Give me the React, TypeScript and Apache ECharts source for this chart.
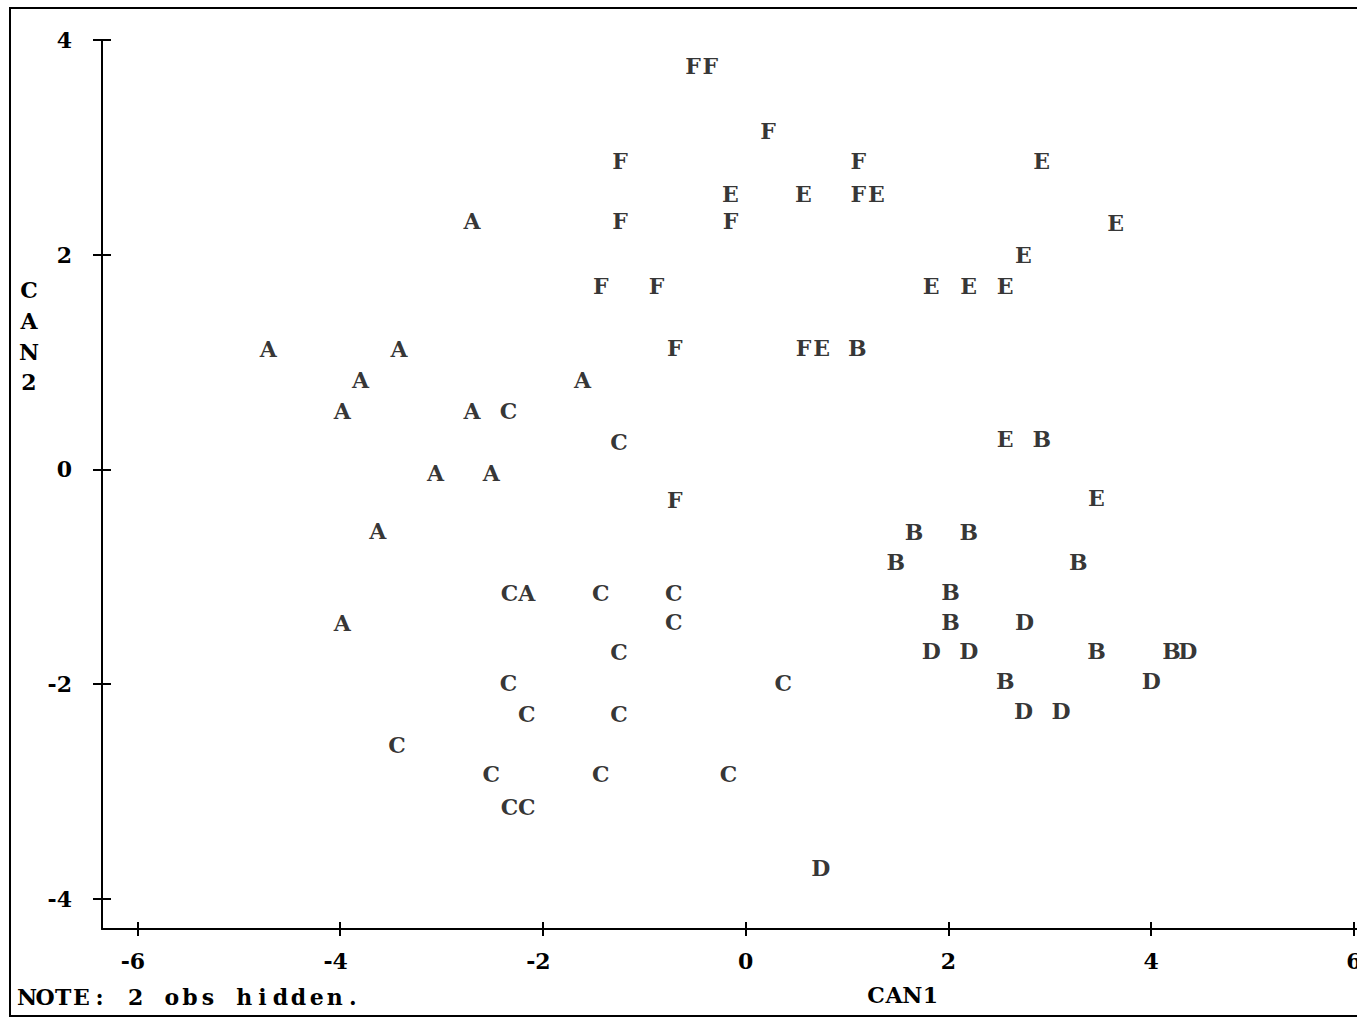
import React, { useEffect, useRef } from "react";
import * as echarts from "echarts";

// CAN1 / CAN2 canonical scores, one list per group letter
const groupA = [
  [-2.70, 2.31], [-4.71, 1.12], [-3.42, 1.12], [-3.80, 0.83], [-1.61, 0.83],
  [-3.98, 0.54], [-2.70, 0.54], [-3.06, -0.03], [-2.51, -0.03], [-3.63, -0.57],
  [-2.16, -1.15], [-3.98, -1.43],
];
const groupB = [
  [1.10, 1.13], [2.92, 0.28], [1.66, -0.58], [2.20, -0.58], [1.48, -0.86],
  [3.28, -0.86], [2.02, -1.14], [2.02, -1.42], [3.46, -1.69], [4.20, -1.69],
  [2.56, -1.97],
];
const groupC = [
  [-2.34, 0.54], [-1.25, 0.26], [-2.33, -1.15], [-1.43, -1.15], [-0.71, -1.15],
  [-0.71, -1.42], [-1.25, -1.70], [-2.34, -1.99], [0.37, -1.99], [-2.16, -2.28],
  [-1.25, -2.28], [-3.44, -2.57], [-2.51, -2.84], [-1.43, -2.84], [-0.17, -2.84],
  [-2.33, -3.14], [-2.16, -3.14],
];
const groupD = [
  [2.75, -1.42], [1.83, -1.69], [2.20, -1.69], [4.36, -1.69], [4.00, -1.97],
  [2.74, -2.25], [3.11, -2.25], [0.74, -3.71],
];
const groupE = [
  [2.92, 2.87], [-0.15, 2.57], [0.57, 2.57], [1.29, 2.57], [3.65, 2.30],
  [2.74, 2.00], [1.83, 1.71], [2.20, 1.71], [2.56, 1.71], [0.75, 1.13],
  [2.56, 0.28], [3.46, -0.27],
];
const groupF = [
  [-0.52, 3.76], [-0.35, 3.76], [0.22, 3.15], [-1.24, 2.87], [1.11, 2.87],
  [1.11, 2.57], [-1.24, 2.31], [-0.15, 2.31], [-1.43, 1.71], [-0.88, 1.71],
  [-0.70, 1.13], [0.57, 1.13], [-0.70, -0.28],
];
const groupNames = ["A", "B", "C", "D", "E", "F"];
const groupData = [groupA, groupB, groupC, groupD, groupE, groupF];

const xTicks = [-6, -4, -2, 0, 2, 4, 6];
const yTicks = [-4, -2, 0, 2, 4];
const xTitle = "CAN1";
const yTitle = "CAN2";
const noteText = "NOTE: 2 obs hidden.";

const FONT = "'DejaVu Serif', serif";

export default function App() {
  const ref = useRef<HTMLDivElement>(null);
  useEffect(() => {
    const chart = echarts.init(ref.current!, null, { renderer: "svg" });
    const mono = (s: string) =>
      s.split("").map((ch) => `{m|${ch}}`).join("");
    const baseText = { fontFamily: FONT, fontWeight: "bold", fontSize: 22, color: "#000" };
    const tickStyle = { color: "#000", width: 2 };
    const xCommon = { type: "value", min: -6.35, max: 6.03, position: "bottom", splitLine: { show: false } };
    const yCommon = { type: "value", min: -4.28, max: 4, position: "left", splitLine: { show: false } };
    const option: any = {
      animation: false,
      backgroundColor: "#fff",
      grid: { left: 102, top: 40, width: 1255, height: 889, outerBoundsMode: "none", containLabel: false },
      xAxis: [
        {
          ...xCommon,
          axisLine: { show: true, onZero: false, lineStyle: { color: "#000", width: 2 } },
          axisTick: { show: true, inside: false, length: 7, customValues: xTicks, lineStyle: tickStyle },
          axisLabel: {
            show: true,
            customValues: xTicks,
            margin: 21,
            hideOverlap: false,
            ...baseText,
            formatter: (v: number) => (v < 0 ? `${v}{s|-}` : `${v}`),
            rich: { s: { ...baseText, color: "rgba(0,0,0,0)" } },
          },
        },
        {
          ...xCommon,
          axisLine: { show: false, onZero: false },
          axisTick: { show: true, inside: true, length: 7, customValues: xTicks, lineStyle: tickStyle },
          axisLabel: { show: false },
        },
      ],
      yAxis: [
        {
          ...yCommon,
          axisLine: { show: true, onZero: false, lineStyle: { color: "#000", width: 2 } },
          axisTick: { show: true, inside: false, length: 9, customValues: yTicks, lineStyle: tickStyle },
          axisLabel: { show: true, customValues: yTicks, margin: 30, ...baseText },
        },
        {
          ...yCommon,
          axisLine: { show: false, onZero: false },
          axisTick: { show: true, inside: true, length: 9, customValues: yTicks, lineStyle: tickStyle },
          axisLabel: { show: false },
        },
      ],
      series: groupNames.map((name, i) => ({
        name,
        type: "scatter",
        xAxisIndex: 0,
        yAxisIndex: 0,
        data: groupData[i],
        symbol: "circle",
        symbolSize: 1,
        itemStyle: { color: "rgba(0,0,0,0)" },
        emphasis: { disabled: true },
        label: {
          show: true,
          position: "inside",
          formatter: name,
          ...baseText,
        },
      })),
      graphic: [
        {
          type: "polyline",
          shape: { points: [[1362, 8], [10, 8], [10, 1016], [1362, 1016]] },
          style: { stroke: "#000", lineWidth: 2, fill: null },
          silent: true,
        },
        {
          type: "text",
          x: 29,
          y: 275,
          style: {
            text: yTitle.split("").join("\n"),
            align: "center",
            verticalAlign: "top",
            lineHeight: 30.6,
            font: `bold 22px ${FONT}`,
            fill: "#000",
          },
        },
        {
          type: "text",
          x: 867,
          y: 995,
          style: {
            text: mono(xTitle),
            align: "left",
            verticalAlign: "middle",
            rich: { m: { ...baseText, fill: "#000", width: 18.1, align: "center" } },
          },
        },
        {
          type: "text",
          x: 18,
          y: 997,
          style: {
            text: mono(noteText),
            align: "left",
            verticalAlign: "middle",
            rich: { m: { ...baseText, fill: "#000", width: 18.1, align: "center" } },
          },
        },
      ],
    };
    chart.setOption(option);
    return () => chart.dispose();
  }, []);
  return (
    <div
      ref={ref}
      style={{ position: "absolute", left: 0, top: 0, width: 1357, height: 1018, background: "#fff" }}
    />
  );
}
